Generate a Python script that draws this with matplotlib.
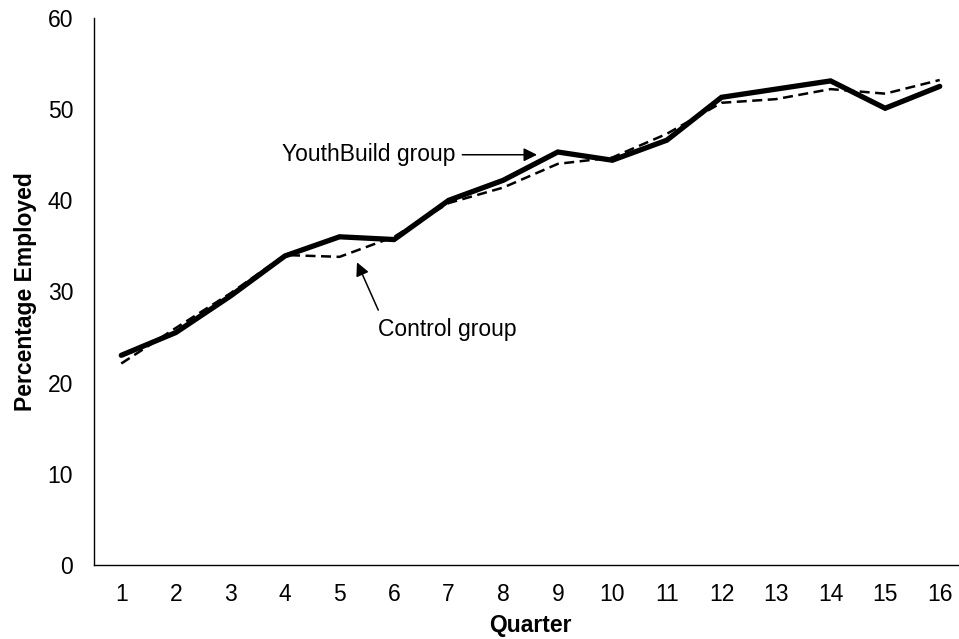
import matplotlib
matplotlib.use("Agg")
import matplotlib.pyplot as plt

quarters = list(range(1, 17))
youthbuild = [23.0, 25.5, 29.5, 33.9, 36.0, 35.7, 40.0, 42.2, 45.3, 44.4, 46.6, 51.3, 52.2, 53.1, 50.1, 52.5]
control = [22.1, 26.0, 29.8, 34.0, 33.8, 36.0, 39.7, 41.4, 44.0, 44.7, 47.3, 50.7, 51.1, 52.2, 51.7, 53.2]
yticks = [0, 10, 20, 30, 40, 50, 60]

plt.rcParams['font.family'] = ['Liberation Sans', 'DejaVu Sans']
FS = 16.5

fig = plt.figure(figsize=(9.59, 6.39), dpi=100)
ax = fig.add_axes([94/959, (639-565)/639, (967-94)/959, (565-18)/639])

ax.plot(quarters, youthbuild, color='black', lw=3.8, solid_capstyle='round', solid_joinstyle='miter', zorder=3)
ax.plot(quarters, control, color='black', lw=1.8, dashes=(4, 2.2), zorder=4)

ax.set_xlim(0.5, 16.5)
ax.set_ylim(0, 60)
ax.set_xticks(quarters)
ax.set_yticks(yticks)
ax.tick_params(length=0, labelsize=FS)
ax.tick_params(axis='x', pad=13)
ax.tick_params(axis='y', pad=15)
for s in ['top', 'right']:
    ax.spines[s].set_visible(False)
for s in ['left', 'bottom']:
    ax.spines[s].set_linewidth(1.0)

ax.set_xlabel('Quarter', fontsize=FS, fontweight='bold', labelpad=6)
ax.set_ylabel('Percentage Employed', fontsize=FS, fontweight='bold', labelpad=8)

ax.text(7.12, 45.0, 'YouthBuild group', fontsize=FS, ha='right', va='center')
ax.annotate('', xy=(8.62, 45.0), xytext=(7.25, 45.0),
            arrowprops=dict(arrowstyle='-|>', color='black', lw=1.1, mutation_scale=20,
                            shrinkA=0, shrinkB=0))
ax.text(5.71, 25.8, 'Control group', fontsize=FS, ha='left', va='center')
ax.annotate('', xy=(5.32, 33.2), xytext=(5.71, 27.96),
            arrowprops=dict(arrowstyle='-|>', color='black', lw=1.1, mutation_scale=20,
                            shrinkA=0, shrinkB=0))

fig.savefig('out.png', dpi=100)
